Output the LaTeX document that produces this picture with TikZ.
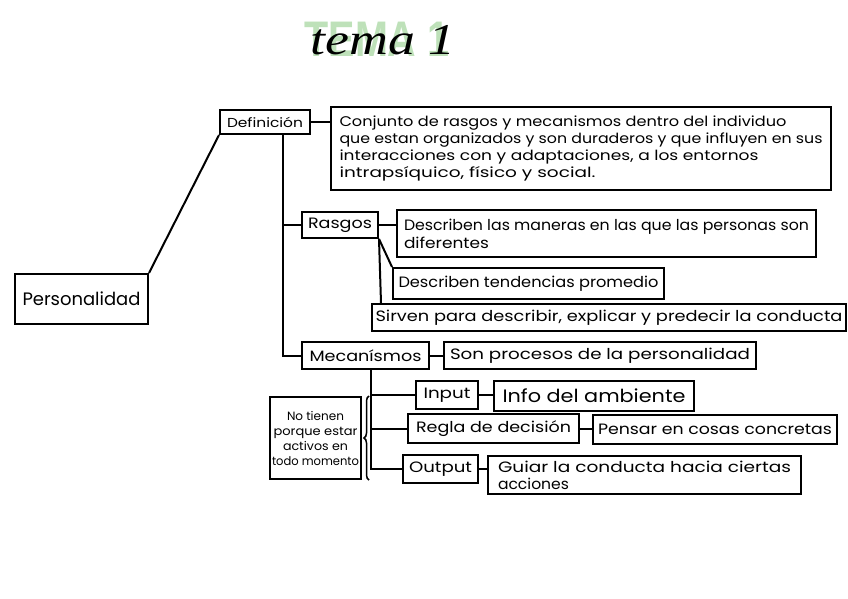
\documentclass[tikz,border=0pt]{standalone}
\usepackage{fontspec}
\usepackage{graphicx}
\setmainfont{Poppins}
\newfontfamily\titlef{Liberation Serif}
\newfontfamily\greenf{Liberation Sans}
\usetikzlibrary{decorations.pathreplacing}
\definecolor{hl}{RGB}{190,225,185}
\newlength\hfw
\newcommand\hfit[2]{\settowidth\hfw{#2}\scalebox{\fpeval{#1/(\the\hfw)}}[1]{#2}}
\tikzset{
  bx/.style={draw, line width=2pt, inner sep=0pt, anchor=north west, font=\fontsize{15}{18}\selectfont},
  ln/.style={line width=2pt},
}
\begin{document}
\begin{tikzpicture}[x=1pt,y=1pt]
\useasboundingbox (0,0) rectangle (848,-599);
% title
\node[font=\greenf\bfseries\fontsize{50}{50}\selectfont, text=hl] (tg) at (377,-39) {\hfit{145}{TEMA 1}};
\node[font=\titlef\itshape\fontsize{44}{44}\selectfont] (tb) at (383,-40) {\hfit{145}{tema 1}};
% nodes
\node[bx, minimum width=133pt, minimum height=50pt, font=\fontsize{18}{20}\selectfont] (pers) at (14,-273) {\hfit{118}{Personalidad}};
\node[bx, minimum width=90pt, minimum height=24pt, font=\fontsize{13}{16}\selectfont] (def) at (219,-109) {\hfit{76}{Definición}};
\node[bx, minimum width=500pt, minimum height=83pt, align=left, font=\fontsize{14}{17}\selectfont] (deftext) at (330,-106)
  {\hfit{447}{Conjunto de rasgos y mecanismos dentro del individuo}\\
   \hfit{483}{que estan organizados y son duraderos y que influyen en sus}\\
   \hfit{419}{interacciones con y adaptaciones, a los entornos}\\
   \hfit{256}{intrapsíquico, físico y social.}};
\node[bx, minimum width=76pt, minimum height=26pt] (rasgos) at (301,-211) {\hfit{64}{Rasgos}};
\node[bx, minimum width=419pt, minimum height=47pt, align=left, font=\fontsize{15}{18}\selectfont] (desc) at (396,-209)
  {\hfit{405}{Describen las maneras en las que las personas son}\\
   \hfit{85}{diferentes}};
\node[bx, minimum width=271pt, minimum height=31pt] (tend) at (392,-267) {\hfit{260}{Describen tendencias promedio}};
\node[bx, minimum width=474pt, minimum height=27pt] (sirven) at (371,-303) {\hfit{467}{Sirven para describir, explicar y predecir la conducta}};
\node[bx, minimum width=127pt, minimum height=27pt] (meca) at (301,-341) {\hfit{112}{Mecanísmos}};
\node[bx, minimum width=312pt, minimum height=27pt] (son) at (443,-341) {\hfit{300}{Son procesos de la personalidad}};
\node[bx, minimum width=62pt, minimum height=28pt] (input) at (415,-380) {\hfit{47}{Input}};
\node[bx, minimum width=200pt, minimum height=30pt, font=\fontsize{18}{20}\selectfont] (info) at (493,-380) {\hfit{183}{Info del ambiente}};
\node[bx, minimum width=171pt, minimum height=29pt] (regla) at (407,-413) {\hfit{155}{Regla de decisión}};
\node[bx, minimum width=244pt, minimum height=29pt] (pensar) at (592,-414) {\hfit{234}{Pensar en cosas concretas}};
\node[bx, minimum width=75pt, minimum height=28pt] (output) at (402,-454) {\hfit{63}{Output}};
\node[bx, minimum width=313pt, minimum height=38pt, align=left, font=\fontsize{15}{17}\selectfont] (guiar) at (487,-455)
  {\hfit{293}{Guiar la conducta hacia ciertas}\\
   \hfit{71}{acciones}};
\node[bx, minimum width=91pt, minimum height=82pt, align=center, font=\fontsize{12}{15}\selectfont] (notienen) at (269,-396)
  {\hfit{57}{No tienen}\\
   \hfit{84}{porque estar}\\
   \hfit{65}{activos en}\\
   \hfit{87}{todo momento}};
% connectors
\draw[ln] (pers.north east) -- (def.south west);
\draw[ln] (def.east) -- (def.east -| deftext.west);
\draw[ln] ([xshift=18pt]def.south) |- (meca.west);
\draw[ln] ([xshift=18pt]def.south) |- (rasgos.west);
\draw[ln] (rasgos.east) -- (rasgos.east -| desc.west);
\draw[ln] (rasgos.south east) -- (tend.north west);
\draw[ln] (rasgos.south east) -- ([xshift=10pt]sirven.north west);
\draw[ln] (meca.east) -- (son.west);
\draw[ln] ([xshift=5pt]meca.south) |- (output.west);
\draw[ln] ([xshift=5pt]meca.south) |- (input.west);
\draw[ln] ([xshift=5pt]meca.south) |- (regla.west);
\draw[ln] (input.east) -- (input.east -| info.west);
\draw[ln] (regla.east) -- (regla.east -| pensar.west);
\draw[ln] (output.east) -- (output.east -| guiar.west);
\draw[ln, line width=1.5pt, decorate, decoration={brace, amplitude=5pt}] ([xshift=7pt]notienen.south east) -- ([xshift=7pt]notienen.north east);
\end{tikzpicture}
\end{document}
